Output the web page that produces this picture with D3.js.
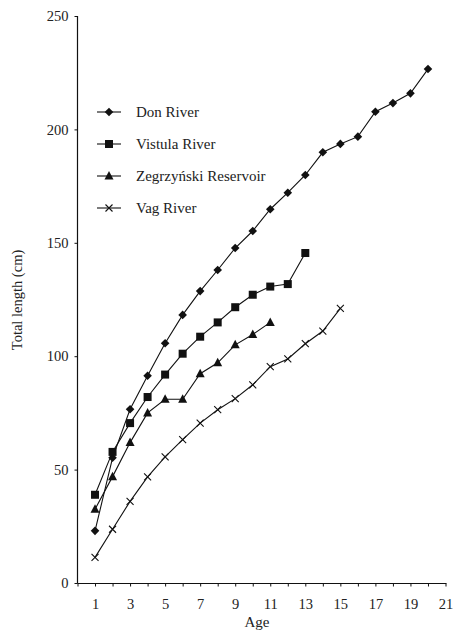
<!DOCTYPE html>
<html><head><meta charset="utf-8">
<script src="https://cdn.jsdelivr.net/npm/d3@7"></script>
<style>body{margin:0;background:#fff}svg{display:block}text{font-family:"Liberation Serif","Times New Roman",serif;fill:#222}</style>
</head><body><div id="c"></div>
<script>
const seriesNames = ["Don River", "Vistula River", "Zegrzyński Reservoir", "Vag River"];
const donAges = [1,2,3,4,5,6,7,8,9,10,11,12,13,14,15,16,17,18,19,20];
const donValues = [23,55.2,76.6,91.4,105.7,118.2,128.7,138,147.7,155.2,164.8,172.1,179.9,189.9,193.6,196.8,207.8,211.6,215.9,226.6];
const vistulaAges = [1,2,3,4,5,6,7,8,9,10,11,12,13];
const vistulaValues = [38.9,57.8,70.5,82,91.9,101.1,108.6,114.9,121.6,127.1,130.7,131.8,145.5];
const zegAges = [1,2,3,4,5,6,7,8,9,10,11];
const zegValues = [32.5,46.9,61.9,75,81,81,92.3,97.1,105,109.6,114.9];
const vagAges = [1,2,3,4,5,6,7,8,9,10,11,12,13,14,15];
const vagValues = [11.3,23.7,36,46.8,55.6,63.2,70.5,76.4,81.3,87.4,95.4,98.8,105.5,111.1,121.1];
const xTicks = [0,1,2,3,4,5,6,7,8,9,10,11,12,13,14,15,16,17,18,19,20,21];
const xTickLabels = ["1","3","5","7","9","11","13","15","17","19","21"];
const yTicks = [0,50,100,150,200,250];

const W = 454, H = 632;
const m = {left:77.5, top:16, right:8, bottom:49};
const svg = d3.select("#c").append("svg").attr("width",W).attr("height",H);
const x = d3.scaleLinear().domain([0,21]).range([m.left, 445.5]);
const y = d3.scaleLinear().domain([0,250]).range([583, 16]);

const yAxis = d3.axisLeft(y).tickValues(yTicks).tickSize(3).tickPadding(6);
const gy = svg.append("g").attr("transform",`translate(${m.left},0)`).call(yAxis);
const xAxis = d3.axisBottom(x).tickValues(xTicks).tickSize(3).tickPadding(12)
  .tickFormat(d => xTickLabels.includes(String(d)) ? String(d) : "");
const gx = svg.append("g").attr("transform",`translate(0,${y(0)+0.5})`).call(xAxis);
[gx,gy].forEach(g=>{
  g.select(".domain").attr("stroke","#111").attr("stroke-width",1.2);
  g.selectAll(".tick line").attr("stroke","#111");
  g.selectAll(".tick text").style("font-family",'"Liberation Serif",serif').style("font-size","14.5px").attr("fill","#222");
});
gx.select(".domain").attr("d",`M${m.left},0H${x(21)+1}`);
gy.select(".domain").attr("d",`M0,${y(0)+0.5}V${y(250)}`);

svg.append("text").attr("x",257).attr("y",627).attr("text-anchor","middle").style("font-size","15px").text("Age");
svg.append("text").attr("transform","translate(22,300) rotate(-90)").attr("text-anchor","middle").style("font-size","14.5px").text("Total length (cm)");

const series = [
  {name:seriesNames[0], ages:donAges, vals:donValues, sym:"diamond"},
  {name:seriesNames[1], ages:vistulaAges, vals:vistulaValues, sym:"square"},
  {name:seriesNames[2], ages:zegAges, vals:zegValues, sym:"triangle"},
  {name:seriesNames[3], ages:vagAges, vals:vagValues, sym:"cross"}
];
function drawMarker(g, sym, cx, cy){
  if(sym==="diamond"){
    g.append("path").attr("d",`M${cx},${cy-4.3}L${cx+4.3},${cy}L${cx},${cy+4.3}L${cx-4.3},${cy}Z`).attr("fill","#111");
  } else if(sym==="square"){
    g.append("rect").attr("x",cx-4).attr("y",cy-4).attr("width",8).attr("height",8).attr("fill","#111");
  } else if(sym==="triangle"){
    g.append("path").attr("d",`M${cx},${cy-5}L${cx+4.5},${cy+3.5}L${cx-4.5},${cy+3.5}Z`).attr("fill","#111");
  } else {
    g.append("path").attr("d",`M${cx-3.5},${cy-3.5}L${cx+3.5},${cy+3.5}M${cx+3.5},${cy-3.5}L${cx-3.5},${cy+3.5}`).attr("stroke","#111").attr("stroke-width",1.1);
  }
}
const line = d3.line().x(d=>x(d[0])).y(d=>y(d[1]));
series.forEach(s=>{
  const pts = s.ages.map((a,i)=>[a,s.vals[i]]);
  const g = svg.append("g");
  g.append("path").attr("d",line(pts)).attr("fill","none").attr("stroke","#111").attr("stroke-width",1.1);
  pts.forEach(p=>drawMarker(g,s.sym,x(p[0]),y(p[1])));
});

const lg = svg.append("g");
series.forEach((s,i)=>{
  const ly = 112 + i*32;
  lg.append("line").attr("x1",97).attr("x2",121).attr("y1",ly).attr("y2",ly).attr("stroke","#111").attr("stroke-width",1.1);
  drawMarker(lg,s.sym,109,ly);
  lg.append("text").attr("x",136).attr("y",ly+5).style("font-size","15px").text(s.name);
});
</script></body></html>
